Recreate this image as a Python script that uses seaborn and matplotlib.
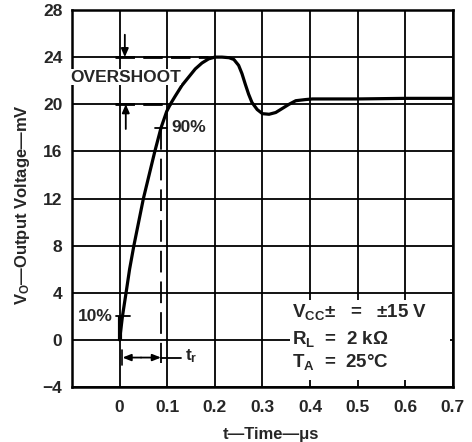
import matplotlib
matplotlib.use("Agg")
import matplotlib.pyplot as plt
from matplotlib.patches import Rectangle
import seaborn as sns
import pandas as pd

# Voltage-follower small-signal pulse response
time_us = [0.0, 0.006, 0.0136, 0.021, 0.03, 0.04, 0.05, 0.062, 0.074, 0.087,
           0.099, 0.108, 0.117, 0.131, 0.145, 0.159, 0.173, 0.187, 0.2,
           0.215, 0.23, 0.24, 0.25, 0.257, 0.264, 0.271, 0.278, 0.289, 0.3,
           0.314, 0.328, 0.342, 0.356, 0.37, 0.391, 0.405, 0.5, 0.6, 0.7]
vout_mv = [0.0, 2.0, 4.0, 6.0, 8.0, 10.0, 12.0, 14.0, 16.0, 18.0,
           19.4, 20.1, 20.7, 21.6, 22.3, 23.0, 23.5, 23.85, 24.0,
           24.0, 23.95, 23.8, 23.3, 22.6, 21.7, 20.85, 20.15, 19.55, 19.2,
           19.15, 19.3, 19.65, 20.0, 20.3, 20.4, 20.45, 20.45, 20.5, 20.5]

x_ticks = [0, 0.1, 0.2, 0.3, 0.4, 0.5, 0.6, 0.7]
x_tick_labels = ["0", "0.1", "0.2", "0.3", "0.4", "0.5", "0.6", "0.7"]
y_ticks = [-4, 0, 4, 8, 12, 16, 20, 24, 28]
y_tick_labels = ["\u22124", "0", "4", "8", "12", "16", "20", "24", "28"]

t_10, v_10 = 0.006, 2.0      # 10 % point
t_90, v_90 = 0.087, 18.0     # 90 % point
v_final, v_peak = 20.0, 24.0

conditions = ["V$_{\\mathrm{CC}}$\u00b1   =   \u00b115 V",
              "R$_{\\mathrm{L}}$  =  2 k\u03a9",
              "T$_{\\mathrm{A}}$  =  25\u00b0C"]

sns.set_style("white")
plt.rcParams["font.family"] = ["Liberation Sans", "DejaVu Sans"]
plt.rcParams["font.weight"] = "bold"
plt.rcParams["mathtext.fontset"] = "custom"
plt.rcParams["mathtext.rm"] = "Liberation Sans:bold"
plt.rcParams["mathtext.it"] = "Liberation Sans:bold"
plt.rcParams["mathtext.bf"] = "Liberation Sans:bold"

fig = plt.figure(figsize=(4.72, 4.42), dpi=100)
ax = fig.add_axes([0.1525, 0.1244, 0.807, 0.853])

df = pd.DataFrame({"t": time_us, "v": vout_mv})
sns.lineplot(data=df, x="t", y="v", ax=ax, color="black", linewidth=2.3,
             sort=False, estimator=None, zorder=4)
# heavy trace at the step edge
ax.plot([0.0, 0.0], [0.0, v_10], color="black", lw=3.0, zorder=4,
        solid_capstyle="butt")

ax.set_xlim(-0.1, 0.7)
ax.set_ylim(-4, 28)
ax.set_xticks(x_ticks)
ax.set_xticklabels(x_tick_labels)
ax.set_yticks(y_ticks)
ax.set_yticklabels(y_tick_labels)
ax.tick_params(axis="x", length=0, pad=9, labelsize=12.5)
ax.tick_params(axis="y", length=0, pad=7, labelsize=12.5)
for lab in ax.get_xticklabels() + ax.get_yticklabels():
    lab.set_fontweight("bold")

ax.grid(True, color="black", linewidth=1.3)
ax.set_axisbelow(True)
for s in ax.spines.values():
    s.set_color("black")
    s.set_linewidth(1.8)

ax.set_xlabel("t\u2014Time\u2014\u03bcs", fontsize=12, fontweight="bold")
ax.set_ylabel("V$_{\\mathrm{O}}$\u2014Output Voltage\u2014mV", fontsize=12,
              fontweight="bold")
ax.xaxis.set_label_coords(0.522, -0.106)
ax.yaxis.set_label_coords(-0.105, 0.483)

# overshoot markers
dash = (0, (7, 3))
ax.plot([-0.009, 0.185], [v_peak, v_peak], color="black", lw=2.0,
        linestyle=dash, zorder=3)
ax.plot([-0.009, 0.107], [v_final, v_final], color="black", lw=2.0,
        linestyle=dash, zorder=3)
arrow_kw = dict(arrowstyle="-|>,head_length=0.5,head_width=0.22",
                color="black", lw=1.3, shrinkA=0, shrinkB=0)
ax.annotate("", xy=(0.011, v_peak), xytext=(0.011, 25.9), arrowprops=arrow_kw)
ax.annotate("", xy=(0.013, v_final), xytext=(0.013, 17.9), arrowprops=arrow_kw)
ax.text(0.012, 22.3, "OVERSHOOT", ha="center", va="center", fontsize=12.5,
        fontweight="bold", zorder=5,
        bbox=dict(facecolor="white", edgecolor="none", pad=0.2))

# 10 % / 90 % crossing marks
ax.plot([-0.008, 0.022], [v_10, v_10], color="black", lw=1.3, zorder=4)
ax.plot([0.074, 0.1], [v_90, v_90], color="black", lw=1.3, zorder=4)
ax.text(-0.014, v_10, "10%", ha="right", va="center", fontsize=12.5,
        fontweight="bold", zorder=5)
ax.text(0.108, v_90, "90%", ha="left", va="center", fontsize=12.5,
        fontweight="bold", zorder=5)

# rise-time marker
ax.plot([t_90, t_90], [v_90, -2.0], color="black", lw=1.3,
        linestyle=(0, (12, 5)), zorder=3)
ax.plot([0.006, 0.006], [-0.9, -2.1], color="black", lw=1.2, zorder=4)
ax.annotate("", xy=(0.006, -1.5), xytext=(0.045, -1.5),
            arrowprops=dict(arrowstyle="-|>,head_length=0.5,head_width=0.2",
                            color="black", lw=1.3, shrinkA=0, shrinkB=0))
ax.annotate("", xy=(t_90, -1.5), xytext=(0.045, -1.5),
            arrowprops=dict(arrowstyle="-|>,head_length=0.5,head_width=0.2",
                            color="black", lw=1.3, shrinkA=0, shrinkB=0))
ax.plot([t_90, 0.13], [-1.5, -1.5], color="black", lw=1.3, zorder=4)
ax.text(0.138, -1.4, "t$_{\\mathrm{r}}$", ha="left", va="center", fontsize=12.5,
        fontweight="bold")

# test conditions
ax.add_patch(Rectangle((0.357, -3.4), 0.336, 6.8, facecolor="white",
                       edgecolor="none", zorder=2))
for yy, txt in zip([2.4, 0.1, -1.9], conditions):
    ax.text(0.362, yy, txt, ha="left", va="center", fontsize=13.5,
            fontweight="bold", zorder=5)

fig.savefig("out.png", dpi=100)
